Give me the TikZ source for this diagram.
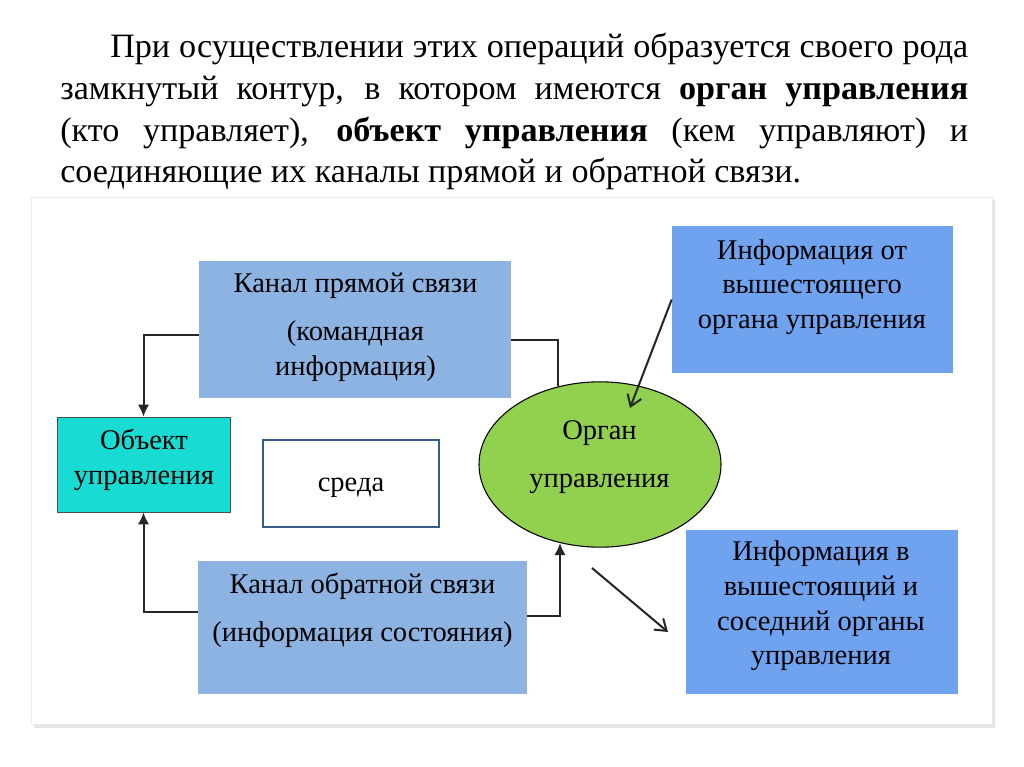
\documentclass[tikz,border=0pt]{standalone}
\usepackage{fontspec}
\setmainfont{Liberation Serif}
\usetikzlibrary{arrows.meta,shapes.geometric}

\definecolor{kanal}{HTML}{8DB3E2}
\definecolor{infblue}{HTML}{6FA3F0}
\definecolor{objcyan}{HTML}{18DCD4}
\definecolor{orggreen}{HTML}{92D050}
\definecolor{sredaline}{HTML}{385D8A}

\begin{document}
\begin{tikzpicture}[x=0.75pt,y=-0.75pt,>={Latex[length=9pt,width=8.5pt]},
  box/.style={rectangle,inner sep=0pt},
  txt/.style={align=center,font=\fontsize{21.4}{26}\selectfont,inner sep=0pt},
  link/.style={draw=black!85,line width=1.5pt},
  open/.style={link,-{Straight Barb[length=8pt,width=11pt]}}]
\useasboundingbox (0,0) rectangle (1024,767);

% frame with shadow
\fill[black!10] (34,200) rectangle (995,728);
\draw[black!8,fill=white] (31,197) rectangle (992,724);

% title
\node[anchor=north west,inner sep=0pt,text width=681pt,align=justify,
  font=\fontsize{25.6}{31.3}\selectfont] (title) at (60,33)
{\hspace*{37.5pt}При осуществлении этих операций образуется своего рода\linebreak
замкнутый контур, в котором имеются \textbf{орган управления}\linebreak
(кто управляет), \textbf{объект управления} (кем управляют) и\linebreak
соединяющие их каналы прямой и обратной связи.};

% boxes
\node[box,fill=kanal,minimum width=234pt,minimum height=102.75pt] (kp) at (355,329.5) {};
\node[box,fill=objcyan,draw=black!70,line width=0.6pt,minimum width=129.75pt,minimum height=71.25pt] (obj) at (143.5,464.5) {};
\node[box,fill=white,draw=sredaline,line width=1.1pt,minimum width=132pt,minimum height=65.25pt] (sr) at (351,483.5) {};
\node[ellipse,fill=orggreen,draw=black,line width=0.8pt,inner sep=0pt,minimum width=181.5pt,minimum height=124pt] (org) at (600,464.5) {};
\node[box,fill=infblue,minimum width=210.75pt,minimum height=110.25pt] (inf1) at (812.5,299.5) {};
\node[box,fill=kanal,minimum width=246.75pt,minimum height=99.75pt] (ko) at (362.5,627.5) {};
\node[box,fill=infblue,minimum width=204pt,minimum height=123pt] (inf2) at (822,612) {};

% texts
\node[txt] (kpT) at (355.5,327) {Канал прямой связи\\[10pt](командная\\информация)};
\node[txt] (objT) at (144,460) {Объект\\управления};
\node[txt] (srT) at (351,488) {среда};
\node[txt] (orgT) at (599.5,457) {Орган\\[10pt]управления};
\node[txt] (inf1T) at (812,287) {Информация от\\вышестоящего\\органа управления};
\node[txt] (koT) at (362.5,610) {Канал обратной связи\\[10pt](информация состояния)};
\node[txt] (inf2T) at (821,606) {Информация в\\вышестоящий и\\соседний органы\\управления};

% connectors
\draw[link,->] ([yshift=-4pt]kp.west) -| (obj.north);
\draw[link] ([yshift=-8pt]kp.east) -| (org.118);
\draw[link,->] ([yshift=12pt]ko.west) -| (obj.south);
\draw[link,->] ([yshift=9pt]ko.east) -| (org.243);

\coordinate (inTip) at (630,408);
\draw[open] (inf1.west) -- (inTip);
\coordinate (outStart) at (592,568);
\coordinate (outTip) at (668,632);
\draw[open] (outStart) -- (outTip);

\end{tikzpicture}
\end{document}
